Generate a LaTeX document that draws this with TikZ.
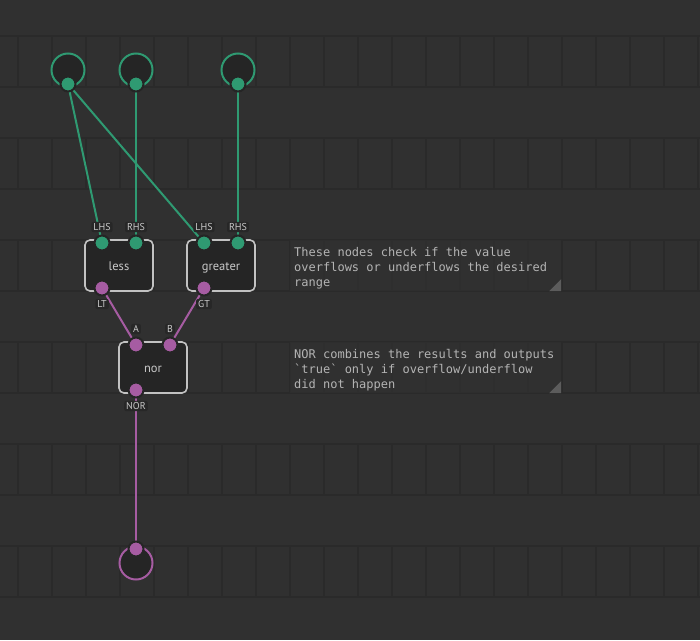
\documentclass[tikz,border=0pt]{standalone}
\usepackage{fontspec}
\setmainfont{PT Sans}
\newfontfamily\cmtfont{DejaVu Sans Mono}
\definecolor{bgc}{HTML}{303030}
\definecolor{gridc}{HTML}{2A2A2A}
\definecolor{nodefill}{HTML}{252525}
\definecolor{nodeedge}{HTML}{C2C2C2}
\definecolor{grn}{HTML}{2F9A72}
\definecolor{pur}{HTML}{A65CA2}
\definecolor{txt}{HTML}{C8C8C8}
\definecolor{cmt}{HTML}{B4B4B4}
\definecolor{chip}{HTML}{272727}
\definecolor{tric}{HTML}{5C5C5C}
\pgfdeclarelayer{background}
\pgfdeclarelayer{edges}
\pgfsetlayers{background,edges,main}
\tikzset{
  gridline/.style={draw=gridc,line width=2pt},
  blockbox/.style={draw=nodeedge,fill=nodefill,line width=1.6pt,rounded corners=5pt,
    minimum width=68pt,minimum height=51pt,inner sep=0pt,text=txt,
    text height=12pt,text depth=3pt,font=\fontsize{12.5}{12.5}\selectfont},
  gpin/.style={circle,fill=grn,draw=nodefill,line width=2pt,minimum size=15pt,inner sep=0pt},
  ppin/.style={circle,fill=pur,draw=nodefill,line width=2pt,minimum size=15pt,inner sep=0pt},
  pinlabel/.style={fill=chip,rounded corners=2pt,inner xsep=2pt,inner ysep=1.5pt,text=txt,
    font=\fontsize{10}{10}\selectfont},
  terminal/.style={circle,fill=nodefill,line width=2pt,minimum size=33pt,inner sep=0pt},
  gwire/.style={draw=grn,line width=2pt},
  pwire/.style={draw=pur,line width=2pt},
  cmtbox/.style={fill=bgc,fill opacity=0.8,minimum width=271pt,minimum height=51pt,inner sep=0pt},
  cmttext/.style={anchor=base west,inner sep=0pt,text=cmt,font=\cmtfont\fontsize{12}{15}\selectfont},
  tri/.style={fill=tric}
}
\begin{document}
\begin{tikzpicture}[x=1pt,y=-1pt]
\begin{pgfonlayer}{background}
\fill[bgc] (0,0) rectangle (700,640);
\useasboundingbox (0,0) rectangle (700,640);
\foreach \k in {0,...,11} \draw[gridline] (0,{36+51*\k}) -- (700,{36+51*\k});
\foreach \j in {0,...,5} \foreach \i in {0,...,20}
  \draw[gridline] ({18+34*\i},{36+102*\j}) -- ({18+34*\i},{87+102*\j});
% comments
\node[cmtbox] (c1) at (425.5,265.5) {};
\fill[tri] (c1.south east) -- ++(0,-12) -- ++(-12,12) -- cycle;
\node[cmtbox] (c2) at (425.5,367.5) {};
\fill[tri] (c2.south east) -- ++(0,-12) -- ++(-12,12) -- cycle;
% blocks
\node[blockbox] (less) at (119,265.5) {less};
\node[blockbox] (greater) at (221,265.5) {greater};
\node[blockbox] (nor) at (153,367.5) {nor};
% terminals
\node[terminal,draw=grn] (in1) at (68,70) {};
\node[terminal,draw=grn] (in2) at (136,70) {};
\node[terminal,draw=grn] (in3) at (238,70) {};
\node[terminal,draw=pur] (out1) at (136,563) {};
\end{pgfonlayer}
% pins
\node[gpin] (in1p) at (68,84) {};
\node[gpin] (in2p) at (136,84) {};
\node[gpin] (in3p) at (238,84) {};
\node[ppin] (out1p) at (136,549) {};
\node[gpin] (lessL) at (102,243) {};
\node[gpin] (lessR) at (136,243) {};
\node[ppin] (lessO) at (102,288) {};
\node[gpin] (grL) at (204,243) {};
\node[gpin] (grR) at (238,243) {};
\node[ppin] (grO) at (204,288) {};
\node[ppin] (norA) at (136,345) {};
\node[ppin] (norB) at (170,345) {};
\node[ppin] (norO) at (136,390) {};
% pin labels
\node[pinlabel] (lessLl) at (102,227) {LHS};
\node[pinlabel] (lessRl) at (136,227) {RHS};
\node[pinlabel] (lessOl) at (102,304) {LT};
\node[pinlabel] (grLl) at (204,227) {LHS};
\node[pinlabel] (grRl) at (238,227) {RHS};
\node[pinlabel] (grOl) at (204,304) {GT};
\node[pinlabel] (norAl) at (136,329) {A};
\node[pinlabel] (norBl) at (170,329) {B};
\node[pinlabel] (norOl) at (136,406) {NOR};
% wires
\begin{pgfonlayer}{edges}
\draw[gwire] (in1p.center) -- (lessL.center);
\draw[gwire] (in1p.center) -- (grL.center);
\draw[gwire] (in2p.center) -- (lessR.center);
\draw[gwire] (in3p.center) -- (grR.center);
\draw[pwire] (lessO.center) -- (norA.center);
\draw[pwire] (grO.center) -- (norB.center);
\draw[pwire] (norO.center) -- (out1p.center);
\end{pgfonlayer}
% comment text
\node[cmttext] (c1a) at (294,256) {These nodes check if the value};
\node[cmttext] (c1b) at (294,271) {overflows or underflows the desired};
\node[cmttext] (c1c) at (294,286) {range};
\node[cmttext] (c2a) at (294,358) {NOR combines the results and outputs};
\node[cmttext] (c2b) at (294,373) {\char96 true\char96{} only if overflow/underflow};
\node[cmttext] (c2c) at (294,388) {did not happen};
\end{tikzpicture}
\end{document}
